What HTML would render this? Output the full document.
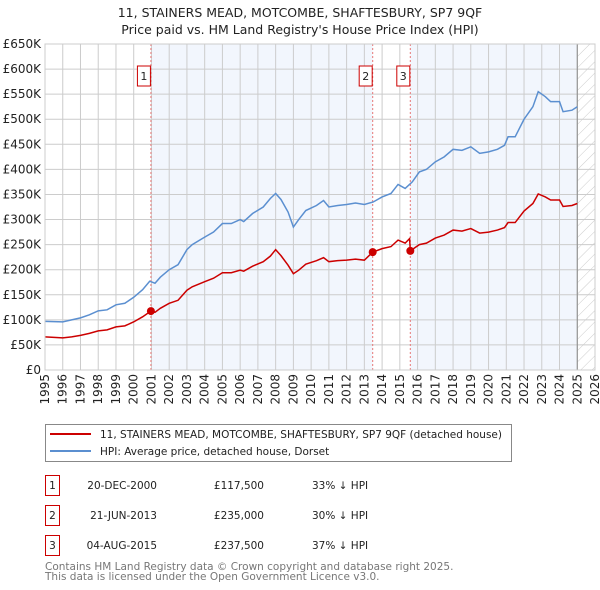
<!DOCTYPE html>
<html><head><meta charset="utf-8"><style>
body{margin:0;background:#fff;}
svg{display:block;font-family:"DejaVu Sans","Liberation Sans",sans-serif;}
</style></head><body>
<svg id="chart" width="600" height="590" viewBox="0 0 600 590" xmlns="http://www.w3.org/2000/svg">
<text x="300" y="17" text-anchor="middle" font-size="12.5" fill="#222">11, STAINERS MEAD, MOTCOMBE, SHAFTESBURY, SP7 9QF</text>
<text x="300" y="34" text-anchor="middle" font-size="12.5" fill="#222">Price paid vs. HM Land Registry's House Price Index (HPI)</text>
<g id="plot"></g>
<g>
<rect x="45.5" y="424.5" width="466" height="37" fill="#fff" stroke="#888"/>
<line x1="50" y1="434" x2="91" y2="434" stroke="#cc0000" stroke-width="2"/>
<text x="100" y="438" font-size="10.5" fill="#222">11, STAINERS MEAD, MOTCOMBE, SHAFTESBURY, SP7 9QF (detached house)</text>
<line x1="50" y1="451" x2="91" y2="451" stroke="#5b8fd0" stroke-width="2"/>
<text x="100" y="455" font-size="10.5" fill="#222">HPI: Average price, detached house, Dorset</text>
</g>
<g font-size="10.5" fill="#222">
<rect x="45.5" y="475.5" width="14" height="20" fill="#fff" stroke="#cc0000"/><text x="52.5" y="489" text-anchor="middle">1</text>
<text x="157" y="489" text-anchor="end">20-DEC-2000</text><text x="264" y="489" text-anchor="end">£117,500</text><text x="312" y="489">33% ↓ HPI</text>
<rect x="45.5" y="505.5" width="14" height="20" fill="#fff" stroke="#cc0000"/><text x="52.5" y="519" text-anchor="middle">2</text>
<text x="157" y="519" text-anchor="end">21-JUN-2013</text><text x="264" y="519" text-anchor="end">£235,000</text><text x="312" y="519">30% ↓ HPI</text>
<rect x="45.5" y="535.5" width="14" height="20" fill="#fff" stroke="#cc0000"/><text x="52.5" y="549" text-anchor="middle">3</text>
<text x="157" y="549" text-anchor="end">04-AUG-2015</text><text x="264" y="549" text-anchor="end">£237,500</text><text x="312" y="549">37% ↓ HPI</text>
</g>
<text x="45" y="570" font-size="10.5" fill="#777">Contains HM Land Registry data © Crown copyright and database right 2025.</text>
<text x="45" y="580" font-size="10.5" fill="#777">This data is licensed under the Open Government Licence v3.0.</text>
</svg>
<script>
const yTicks=[0,50,100,150,200,250,300,350,400,450,500,550,600,650];
const yLabels=["£0","£50K","£100K","£150K","£200K","£250K","£300K","£350K","£400K","£450K","£500K","£550K","£600K","£650K"];
const xYears=[1995,1996,1997,1998,1999,2000,2001,2002,2003,2004,2005,2006,2007,2008,2009,2010,2011,2012,2013,2014,2015,2016,2017,2018,2019,2020,2021,2022,2023,2024,2025,2026];
const hpiYears=[1995,1996,1996.5,1997,1997.5,1998,1998.5,1999,1999.5,2000,2000.5,2000.9,2001.2,2001.5,2002,2002.5,2003,2003.3,2004,2004.5,2005,2005.5,2006,2006.2,2006.7,2007.3,2007.7,2008,2008.3,2008.7,2009,2009.3,2009.7,2010.3,2010.7,2011,2011.5,2012,2012.5,2013,2013.5,2014,2014.5,2014.9,2015.3,2015.7,2016.1,2016.5,2017,2017.5,2018,2018.5,2019,2019.5,2020,2020.5,2020.9,2021.1,2021.5,2022,2022.5,2022.8,2023.2,2023.5,2024,2024.2,2024.7,2025];
const hpiValues=[97,96,100,104,110,118,120,130,133,145,160,177,173,185,200,210,240,250,265,275,292,292,300,296,312,325,342,352,340,315,285,300,318,328,338,325,328,330,333,330,335,345,352,370,362,375,395,400,415,425,440,438,445,432,435,440,448,465,465,500,525,555,545,535,535,515,518,525];
const redYears=[1995,1996,1996.5,1997,1997.5,1998,1998.5,1999,1999.5,2000,2000.5,2000.97,2001.2,2001.5,2002,2002.5,2003,2003.3,2004,2004.5,2005,2005.5,2006,2006.2,2006.7,2007.3,2007.7,2008,2008.3,2008.7,2009,2009.3,2009.7,2010.3,2010.7,2011,2011.5,2012,2012.5,2013,2013.47,2014,2014.5,2014.9,2015.3,2015.55,2015.59,2016.1,2016.5,2017,2017.5,2018,2018.5,2019,2019.5,2020,2020.5,2020.9,2021.1,2021.5,2022,2022.5,2022.8,2023.2,2023.5,2024,2024.2,2024.7,2025];
const redValues=[66,64,66,69,73,78,80,86,88,96,106,117.5,115,123,133,139,159,166,176,183,194,194,199,197,207,216,227,240,228,209,192,199,211,218,224,216,218,219,221,219,235,242,246,259,253,262,237.5,250,253,263,269,279,277,282,273,275,279,284,294,294,317,332,351,345,339,339,326,328,332];
const saleYears=[2000.97,2013.47,2015.59];
const saleValues=[117.5,235,237.5];
const saleLabels=["1","2","3"];

const NS="http://www.w3.org/2000/svg";
const X0=45,X1=595,Y0=370,Y1=44;
const xs=y=>X0+(y-1995)/(2026-1995)*(X1-X0);
const ys=v=>Y0-v/650*(Y0-Y1);
const plot=document.getElementById('plot');
function mk(tag,attrs,parent){const e=document.createElementNS(NS,tag);for(const k in attrs)e.setAttribute(k,attrs[k]);(parent||plot).appendChild(e);return e;}

const b1=mk('rect',{x:xs(saleYears[0]),y:Y1,width:xs(saleYears[1])-xs(saleYears[0]),height:Y0-Y1,fill:'#f2f6fd'});


const b2=mk('rect',{x:xs(saleYears[2]),y:Y1,width:xs(2025)-xs(saleYears[2]),height:Y0-Y1,fill:'#f2f6fd'});


const defs=mk('defs',{});
const pat=mk('pattern',{id:'hatch',width:8,height:8,patternUnits:'userSpaceOnUse',patternTransform:'rotate(45)'},defs);
mk('line',{x1:0,y1:0,x2:0,y2:8,stroke:'#ccc','stroke-width':1},pat);
const hr=mk('rect',{x:xs(2025),y:Y1,width:X1-xs(2025),height:Y0-Y1,fill:'url(#hatch)'});



yTicks.forEach((t,i)=>{
  const l=mk('line',{x1:X0,x2:X1,y1:ys(t),y2:ys(t),stroke:'#ccc','stroke-width':1});
  
  
  const tx=mk('text',{x:X0-4,y:ys(t)+4,'text-anchor':'end','font-size':12,fill:'#222'});
  tx.textContent=yLabels[i];
  
  
});
xYears.forEach(yr=>{
  const l=mk('line',{x1:xs(yr),x2:xs(yr),y1:Y1,y2:Y0,stroke:'#ccc','stroke-width':1});
  
  
  const tx=mk('text',{x:0,y:0,'text-anchor':'end','font-size':12,fill:'#222',transform:`translate(${xs(yr)+4},374) rotate(-90)`});
  tx.textContent=yr;
  
  
});
const el=mk('line',{x1:xs(2025),x2:xs(2025),y1:Y1,y2:Y0,stroke:'#888','stroke-width':1});



saleYears.forEach((yr,i)=>{
  const l=mk('line',{x1:xs(yr),x2:xs(yr),y1:Y1,y2:Y0,stroke:'#e87777','stroke-width':1,'stroke-dasharray':'2,2'});
  
  
  const r=mk('rect',{x:xs(yr)-13.5,y:66,width:13,height:20,fill:'#fff',stroke:'#cc0000'});
  
  
  const t=mk('text',{x:xs(yr)-7,y:80,'text-anchor':'middle','font-size':11,fill:'#222'});
  t.textContent=saleLabels[i];
  
  
});

const hp=mk('polyline',{points:hpiYears.map((y,i)=>xs(y)+','+ys(hpiValues[i])).join(' '),fill:'none',stroke:'#5b8fd0','stroke-width':1.5});


const rp=mk('polyline',{points:redYears.map((y,i)=>xs(y)+','+ys(redValues[i])).join(' '),fill:'none',stroke:'#cc0000','stroke-width':1.5});


saleYears.forEach((yr,i)=>{
  const c=mk('circle',{cx:xs(yr),cy:ys(saleValues[i]),r:4,fill:'#cc0000'});
  
  
});
const ax=mk('rect',{x:X0,y:Y1,width:X1-X0,height:Y0-Y1,fill:'none',stroke:'#ccc'});


</script>
</body></html>
